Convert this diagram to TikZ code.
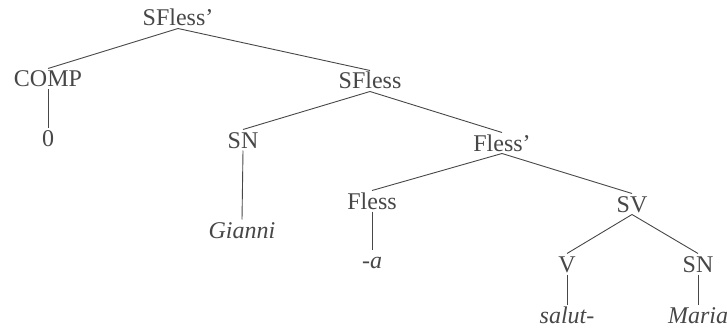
\documentclass[tikz,border=0pt]{standalone}
\usepackage{fontspec}
\setmainfont{Liberation Serif}
\definecolor{ink}{rgb}{0.28,0.28,0.28}
\begin{document}
\begin{tikzpicture}[x=1pt,y=-1pt,
  lab/.style={anchor=base,inner sep=0pt,outer xsep=0pt,outer ysep=2.5pt,text height=16pt,text depth=0pt,
    font=\fontsize{24}{28}\selectfont,text=ink},
  wrd/.style={lab,font=\fontsize{24}{28}\selectfont\itshape},
  edge/.style={draw=ink,line width=0.9pt}]
\useasboundingbox (0,0) rectangle (727,334);
\node[lab] (sfp) at (178,26) {SFless'};
\node[lab] (comp) at (48,87) {COMP};
\node[lab] (zero) at (48,146) {0};
\node[lab] (sf) at (370,89) {SFless};
\node[lab] (sn1) at (243,148) {SN};
\node[wrd] (gianni) at (242,238) {Gianni};
\node[lab] (fp) at (502,151) {Fless'};
\node[lab] (fl) at (372,209) {Fless};
\node[wrd] (a) at (372,268) {-a};
\node[lab] (sv) at (632,212) {SV};
\node[lab] (v) at (567,272) {V};
\node[lab] (sn2) at (698,272) {SN};
\node[wrd] (salut) at (567,323) {salut-};
\node[wrd] (maria) at (698,323) {Maria};
\draw[edge] (sfp.south) -- (comp.north);
\draw[edge] (sfp.south) -- (sf.north);
\draw[edge] (comp.south) -- (zero.north);
\draw[edge] (sf.south) -- (sn1.north);
\draw[edge] (sf.south) -- (fp.north);
\draw[edge] (sn1.south) -- (gianni.north);
\draw[edge] (fp.south) -- (fl.north);
\draw[edge] (fp.south) -- (sv.north);
\draw[edge] (fl.south) -- (a.north);
\draw[edge] (sv.south) -- (v.north);
\draw[edge] (sv.south) -- (sn2.north);
\draw[edge] (v.south) -- (salut.north);
\draw[edge] (sn2.south) -- (maria.north);
\end{tikzpicture}
\end{document}
